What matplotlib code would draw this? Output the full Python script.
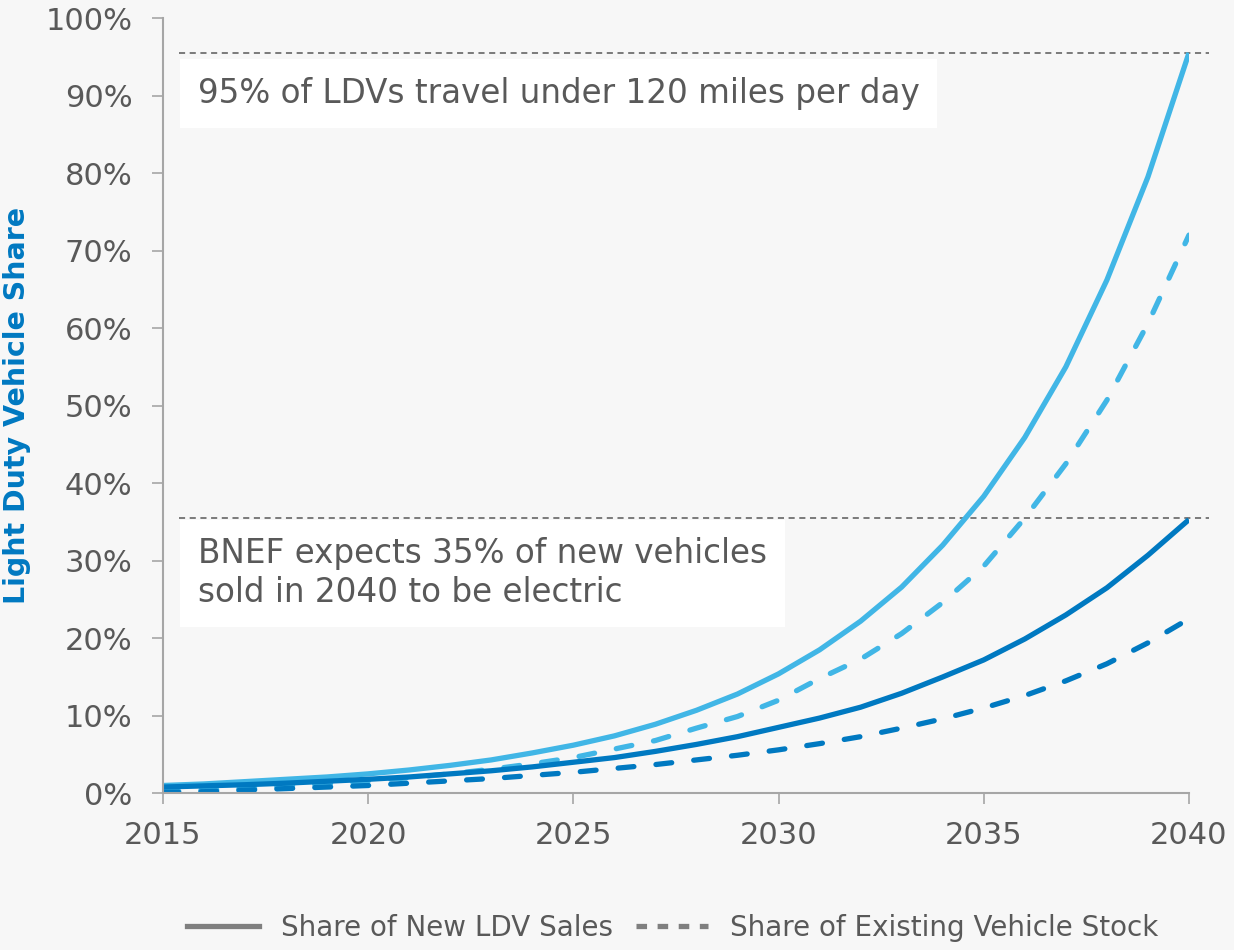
import numpy as np
import matplotlib.pyplot as plt

# Data (percent)
years = list(range(2015, 2041))
new_sales_high = [1.0, 1.2, 1.5, 1.8, 2.1, 2.5, 3.0, 3.6, 4.3, 5.2, 6.2, 7.4, 8.9, 10.7,
                  12.8, 15.4, 18.5, 22.2, 26.6, 32.0, 38.3, 45.9, 55.0, 66.2, 79.5, 95.5]
stock_high = [0.2, 0.4, 0.6, 0.9, 1.2, 1.6, 2.0, 2.5, 3.1, 3.8, 4.6, 5.7, 6.8, 8.4,
              9.9, 12.0, 14.8, 17.3, 20.6, 24.6, 29.3, 35.5, 42.5, 50.7, 60.6, 72.0]
new_sales_bnef = [0.8, 0.95, 1.1, 1.3, 1.55, 1.8, 2.1, 2.5, 2.9, 3.4, 4.0, 4.6, 5.4, 6.3,
                  7.3, 8.5, 9.7, 11.1, 12.9, 15.0, 17.2, 19.9, 23.0, 26.5, 30.7, 35.3]
stock_bnef = [0.1, 0.2, 0.4, 0.6, 0.8, 1.0, 1.3, 1.6, 1.9, 2.3, 2.7, 3.2, 3.7, 4.3,
              4.9, 5.6, 6.4, 7.3, 8.4, 9.6, 11.0, 12.6, 14.5, 16.7, 19.4, 22.5]

ref_levels = [95.5, 35.5]
light_blue = '#41b6e6'
dark_blue = '#0079c1'
text_gray = '#595959'
bg = '#f7f7f7'

plt.rcParams['font.family'] = ['DejaVu Sans']

fig = plt.figure(figsize=(12.34, 9.5), dpi=100, facecolor=bg)
ax = fig.add_axes([0.132, 0.165, 0.8315, 0.816], facecolor=bg)

dash = (0, (3, 4.2))
ax.plot(years, new_sales_high, color=light_blue, lw=3.8, solid_capstyle='butt')
ax.plot(years, stock_high, color=light_blue, lw=3.8, ls=dash, dash_capstyle='round')
ax.plot(years, new_sales_bnef, color=dark_blue, lw=3.8, solid_capstyle='butt')
ax.plot(years, stock_bnef, color=dark_blue, lw=3.8, ls=dash, dash_capstyle='round')

for lvl in ref_levels:
    ax.plot([2015.4, 2040.5], [lvl, lvl], color='#595959', lw=1.1, ls=(0, (4, 3)),
            clip_on=False, zorder=1)

# Annotation boxes
ax.text(2015.85, 90.3, '95% of LDVs travel under 120 miles per day', fontsize=23.5,
        color=text_gray, va='center', ha='left',
        bbox=dict(facecolor='white', edgecolor='none', pad=13))
ax.text(2015.85, 28.4, 'BNEF expects 35% of new vehicles\nsold in 2040 to be electric',
        fontsize=23.5, color=text_gray, va='center', ha='left', linespacing=1.2,
        bbox=dict(facecolor='white', edgecolor='none', pad=13))

ax.set_xlim(2015, 2040)
ax.set_ylim(0, 100)
ax.set_xticks([2015, 2020, 2025, 2030, 2035, 2040])
ax.set_yticks(np.arange(0, 101, 10))
ax.set_yticklabels([f'{v}%' for v in range(0, 101, 10)])
ax.tick_params(axis='both', colors='#a6a6a6', labelcolor=text_gray, labelsize=22,
               length=8, width=1.2)
ax.tick_params(axis='x', pad=12)
ax.tick_params(axis='y', pad=14)

for side in ['top', 'right']:
    ax.spines[side].set_visible(False)
for side in ['left', 'bottom']:
    ax.spines[side].set_color('#a6a6a6')
    ax.spines[side].set_linewidth(1.5)

ax.set_ylabel('Light Duty Vehicle Share', fontsize=20.5, fontweight='bold', color=dark_blue,
              labelpad=10)

# Legend
handles = [plt.Line2D([], [], color='#7f7f7f', lw=3.8),
           plt.Line2D([], [], color='#7f7f7f', lw=3.8, ls=(0, (2, 2)))]
fig.legend(handles, ['Share of New LDV Sales', 'Share of Existing Vehicle Stock'],
           loc='lower center', bbox_to_anchor=(0.545, -0.018), ncol=2, frameon=False,
           fontsize=20, labelcolor=text_gray, handlelength=2.6, columnspacing=0.8)

fig.savefig('out.png', dpi=100, facecolor=bg)
